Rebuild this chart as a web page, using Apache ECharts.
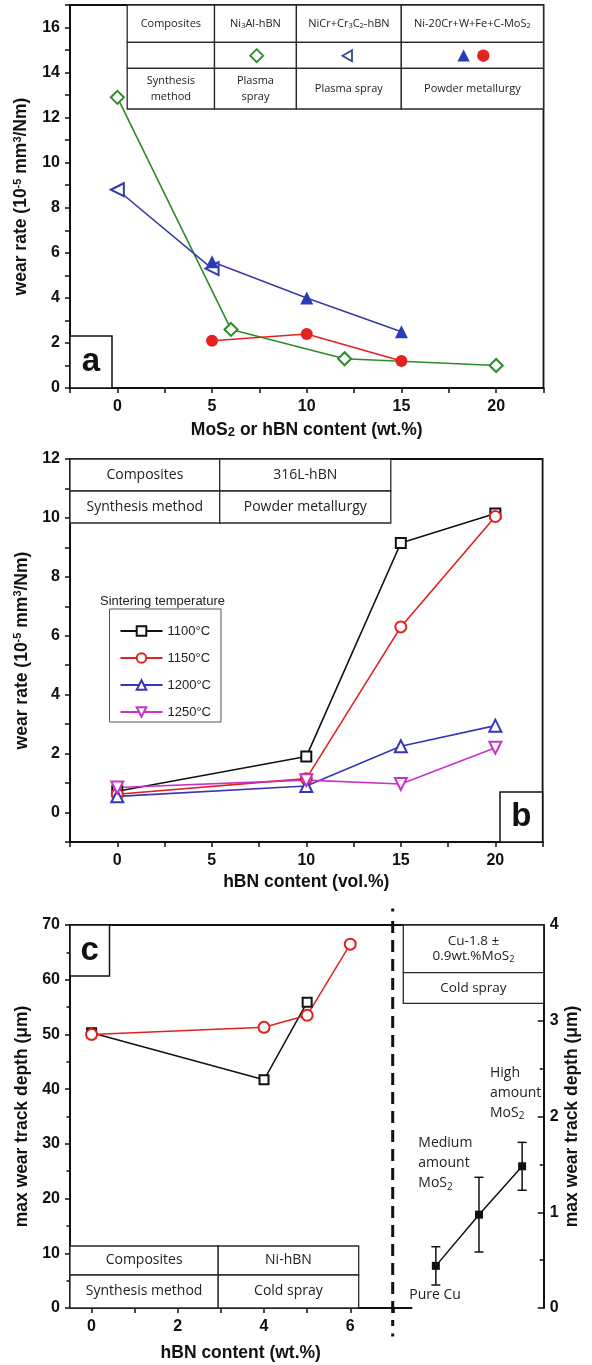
<!DOCTYPE html>
<html>
<head>
<meta charset="utf-8">
<script src="https://cdn.jsdelivr.net/npm/echarts@6.0.0/dist/echarts.min.js"></script>
<style>
  html, body { margin: 0; padding: 0; background: #fff; }
  #chart { width: 592px; height: 1365px; }
</style>
</head>
<body>
<div id="chart"></div>
<script>
// ---- panel a : wear rate vs MoS2 / hBN content ----
const aNi3AlX = [0, 6, 12, 20];
const aNi3AlY = [12.9, 2.6, 1.3, 1.0];
const aNiCrX = [0, 5];
const aNiCrY = [8.8, 5.3];
const aMoS2X = [5, 10, 15];
const aMoS2TriY = [5.6, 4.0, 2.5];
const aMoS2CircY = [2.1, 2.4, 1.2];

// ---- panel b : 316L-hBN, sintering temperatures ----
const bX = [0, 10, 15, 20];
const bTemps = ['1100°C', '1150°C', '1200°C', '1250°C'];
const b1100 = [0.72, 1.9, 9.15, 10.15];
const b1150 = [0.62, 1.15, 6.3, 10.05];
const b1200 = [0.55, 0.9, 2.25, 2.95];
const b1250 = [0.85, 1.1, 0.97, 2.2];

// ---- panel c : Ni-hBN cold spray + Cu-MoS2 ----
const cBlackX = [0, 4, 5];
const cBlackY = [50.3, 41.7, 55.9];
const cRedX = [0, 4, 5, 6];
const cRedY = [50.0, 51.3, 53.5, 66.5];
const cuSamples = ['Pure Cu', 'Medium amount MoS2', 'High amount MoS2'];
const cuX = [1, 2, 3];
const cuDepth = [0.44, 0.975, 1.48];
const cuErr = [0.2, 0.39, 0.25];

const axisFont = "'Liberation Sans', Arial, sans-serif";
const textFont = "'Open Sans', 'Noto Sans', sans-serif";
const ink = '#111';

const zip = (xs, ys) => xs.map((x, i) => [x, ys[i]]);

function nameStyle() {
  return {
    color: ink, fontSize: 17.5, fontWeight: 'bold', fontFamily: axisFont,
    rich: {
      sup: { fontSize: 11, fontWeight: 'bold', fontFamily: axisFont, color: ink, padding: [0, 0, 8, 0] },
      sub: { fontSize: 13, fontWeight: 'bold', fontFamily: axisFont, color: ink, padding: [4, 0, 0, 0] }
    }
  };
}

function valAxis(o) {
  return Object.assign({
    type: 'value',
    nameLocation: 'middle',
    nameTextStyle: nameStyle(),
    axisLine: { show: true, onZero: false, lineStyle: { color: ink, width: 2 } },
    axisTick: { show: true, length: 5, lineStyle: { color: ink, width: 1.5 } },
    axisLabel: { color: ink, fontSize: 16, fontWeight: 'bold', fontFamily: axisFont, margin: 11 },
    splitLine: { show: false }
  }, o);
}

// simple table drawn as graphic cells
function table(xs, ys, rows, size, lh) {
  const out = [];
  rows.forEach((row, r) => {
    row.forEach((txt, c) => {
      const x0 = xs[c], x1 = xs[c + 1], y0 = ys[r], y1 = ys[r + 1];
      out.push({
        type: 'rect', z: 100,
        shape: { x: x0, y: y0, width: x1 - x0, height: y1 - y0 },
        style: { fill: '#fff', stroke: '#2a2a2a', lineWidth: 1.3 }
      });
      if (txt) {
        out.push({
          type: 'text', z: 101,
          x: (x0 + x1) / 2, y: (y0 + y1) / 2,
          style: {
            text: txt, fill: '#222', fontSize: size, fontFamily: textFont,
            align: 'center', verticalAlign: 'middle', lineHeight: lh,
            rich: { s: { fontSize: size * 0.68, fontFamily: textFont, fill: '#222', padding: [size * 0.45, 0, 0, 0] } }
          }
        });
      }
    });
  });
  return out;
}

function letterBox(x, y, w, h, ch) {
  return [
    { type: 'rect', z: 100, shape: { x, y, width: w, height: h }, style: { fill: '#fff', stroke: ink, lineWidth: 1.5 } },
    { type: 'text', z: 101, x: x + w / 2, y: y + h / 2, style: { text: ch, fill: ink, fontSize: 33, fontWeight: 'bold', fontFamily: axisFont, align: 'center', verticalAlign: 'middle' } }
  ];
}

function note(x, y, txt) {
  return {
    type: 'text', z: 101, x, y,
    style: {
      text: txt, fill: '#222', fontSize: 14, fontFamily: textFont, lineHeight: 20,
      align: 'left', verticalAlign: 'top',
      rich: { s: { fontSize: 10, fontFamily: textFont, fill: '#222', padding: [7, 0, 0, 0] } }
    }
  };
}

const green = '#2e8b2a';
const blueLine = '#3a3aa6';
const blueFill = '#2a3cb4';
const red = '#e32322';

const graphics = [].concat(
  // panel a table + symbols
  table([127.2, 214.5, 296.4, 401.3, 543.5], [5, 42.3, 68.3, 109], [
    ['Composites', 'Ni{s|3}Al-hBN', 'NiCr+Cr{s|3}C{s|2}-hBN', 'Ni-20Cr+W+Fe+C-MoS{s|2}'],
    ['', '', '', ''],
    ['Synthesis\nmethod', 'Plasma\nspray', 'Plasma spray', 'Powder metallurgy']
  ], 11, 16.5),
  [
    { type: 'polygon', z: 102, shape: { points: [[256.7, 49.2], [263.2, 55.7], [256.7, 62.2], [250.2, 55.7]] }, style: { fill: '#fff', stroke: green, lineWidth: 1.8 } },
    { type: 'polygon', z: 102, shape: { points: [[342.5, 55.7], [352, 50.2], [352, 61.2]] }, style: { fill: '#fff', stroke: '#2d4c8c', lineWidth: 1.8 } },
    { type: 'polygon', z: 102, shape: { points: [[463.6, 49.5], [469.8, 61.5], [457.4, 61.5]] }, style: { fill: blueFill } },
    { type: 'circle', z: 102, shape: { cx: 483.3, cy: 55.7, r: 6.2 }, style: { fill: red } }
  ],
  letterBox(70, 336, 42, 52, 'a'),

  // panel b
  table([70, 219.7, 390.8], [459, 491, 523], [
    ['Composites', '316L-hBN'],
    ['Synthesis method', 'Powder metallurgy']
  ], 14, 16),
  [{ type: 'text', z: 101, x: 100, y: 601, style: { text: 'Sintering temperature', fill: '#222', fontSize: 13, fontFamily: axisFont, verticalAlign: 'middle' } }],
  letterBox(500, 792, 42.6, 50, 'b'),

  // panel c
  [{ type: 'line', z: 99, shape: { x1: 70, y1: 925, x2: 543.7, y2: 925 }, style: { stroke: ink, lineWidth: 1.8 } }],
  table([70, 218.2, 358.7], [1246, 1275, 1308], [
    ['Composites', 'Ni-hBN'],
    ['Synthesis method', 'Cold spray']
  ], 14, 16),
  table([403.3, 543.7], [925, 972.7, 1003.3], [
    ['Cu-1.8 ±\n0.9wt.%MoS{s|2}'],
    ['Cold spray']
  ], 13.5, 14.5),
  letterBox(70, 925, 39.5, 51, 'c'),
  [
    { type: 'line', z: 99, shape: { x1: 392.7, y1: 921, x2: 392.7, y2: 1326 }, style: { stroke: ink, lineWidth: 3, lineDash: [12, 7] } },
    { type: 'rect', z: 99, shape: { x: 391.2, y: 908.5, width: 3, height: 3 }, style: { fill: ink } },
    { type: 'rect', z: 99, shape: { x: 391.2, y: 1333.5, width: 3, height: 3 }, style: { fill: ink } },
    note(490, 1063, 'High\namount\nMoS{s|2}'),
    note(418.3, 1133.5, 'Medium\namount\nMoS{s|2}'),
    note(409.3, 1285, 'Pure Cu')
  ]
);

const option = {
  animation: false,
  backgroundColor: '#fff',
  grid: [
    { left: 70, top: 5, width: 473.5, height: 383, show: true, borderColor: ink, borderWidth: 1.8 },
    { left: 70, top: 459, width: 472.6, height: 383, show: true, borderColor: ink, borderWidth: 1.8 },
    { left: 70, top: 925, width: 341.5, height: 383 },
    { left: 392.7, top: 925, width: 151, height: 383 }
  ],
  xAxis: [
    valAxis({
      gridIndex: 0, min: -2.5, max: 22.5, interval: 2.5,
      name: 'MoS{sub|2} or hBN content (wt.%)', nameGap: 33,
      axisLabel: { color: ink, fontSize: 16, fontWeight: 'bold', fontFamily: axisFont, margin: 11,
        formatter: v => (Math.abs(v % 5) < 1e-6 ? String(v) : '') }
    }),
    valAxis({
      gridIndex: 1, min: -2.5, max: 22.5, interval: 2.5,
      name: 'hBN content (vol.%)', nameGap: 31,
      axisLabel: { color: ink, fontSize: 16, fontWeight: 'bold', fontFamily: axisFont, margin: 11,
        formatter: v => (Math.abs(v % 5) < 1e-6 ? String(v) : '') }
    }),
    valAxis({
      gridIndex: 2, min: -0.5, max: 7.42,
      name: 'hBN content (wt.%)', nameGap: 36,
      axisTick: { show: true, length: 5, lineStyle: { color: ink, width: 1.5 }, customValues: [0, 1, 2, 3, 4, 5, 6, 7] },
      axisLabel: { color: ink, fontSize: 16, fontWeight: 'bold', fontFamily: axisFont, margin: 11, customValues: [0, 2, 4, 6] }
    }),
    { type: 'value', gridIndex: 3, min: 0, max: 3.5, show: false }
  ],
  yAxis: [
    valAxis({
      gridIndex: 0, min: 0, max: 17, interval: 1,
      name: 'wear rate (10{sup|-5} mm{sup|3}/Nm)', nameGap: 39,
      axisLabel: { color: ink, fontSize: 16, fontWeight: 'bold', fontFamily: axisFont, margin: 10,
        formatter: v => (v % 2 === 0 && v < 17 ? String(v) : '') }
    }),
    valAxis({
      gridIndex: 1, min: -1, max: 12, interval: 1,
      name: 'wear rate (10{sup|-5} mm{sup|3}/Nm)', nameGap: 29,
      axisLabel: { color: ink, fontSize: 16, fontWeight: 'bold', fontFamily: axisFont, margin: 10,
        formatter: v => (v % 2 === 0 ? String(v) : '') }
    }),
    valAxis({
      gridIndex: 2, min: 0, max: 70, interval: 10,
      name: 'max wear track depth (μm)', nameGap: 39,
      minorTick: { show: true, splitNumber: 2, length: 3.5, lineStyle: { color: ink, width: 1.5 } },
      axisLabel: { color: ink, fontSize: 16, fontWeight: 'bold', fontFamily: axisFont, margin: 10 }
    }),
    valAxis({
      gridIndex: 3, min: 0, max: 4, interval: 1, position: 'right',
      name: 'max wear track depth (μm)', nameGap: 19, nameRotate: 90,
      axisTick: { show: true, inside: true, length: 6, lineStyle: { color: ink, width: 1.5 } },
      minorTick: { show: true, splitNumber: 2, length: 4, lineStyle: { color: ink, width: 1.5 } },
      axisLabel: { color: ink, fontSize: 16, fontWeight: 'bold', fontFamily: axisFont, margin: 6, inside: false }
    })
  ],
  legend: {
    data: bTemps,
    orient: 'vertical', left: 109.5, top: 609,
    itemWidth: 42, itemHeight: 12, itemGap: 13,
    padding: [15, 10, 3, 10],
    borderColor: '#555', borderWidth: 1,
    textStyle: { color: '#222', fontSize: 13, fontFamily: axisFont, lineHeight: 14 }
  },
  graphic: { elements: graphics },
  series: [
    // panel a
    { name: 'Ni3Al-hBN', type: 'line', xAxisIndex: 0, yAxisIndex: 0, data: zip(aNi3AlX, aNi3AlY),
      symbol: 'emptyDiamond', symbolSize: 13, lineStyle: { color: green, width: 1.6 },
      itemStyle: { color: green, borderWidth: 1.8 } },
    { name: 'NiCr+Cr3C2-hBN', type: 'line', xAxisIndex: 0, yAxisIndex: 0, data: zip(aNiCrX, aNiCrY),
      symbol: 'emptyTriangle', symbolRotate: 90, symbolSize: 13, lineStyle: { color: blueLine, width: 1.6 },
      itemStyle: { color: blueLine, borderWidth: 1.8 } },
    { name: 'Ni-20Cr MoS2 (triangle)', type: 'line', xAxisIndex: 0, yAxisIndex: 0, data: zip(aMoS2X, aMoS2TriY),
      symbol: 'triangle', symbolSize: 13, lineStyle: { color: blueLine, width: 1.6 },
      itemStyle: { color: blueFill } },
    { name: 'Ni-20Cr MoS2 (circle)', type: 'line', xAxisIndex: 0, yAxisIndex: 0, data: zip(aMoS2X, aMoS2CircY),
      symbol: 'circle', symbolSize: 12, lineStyle: { color: red, width: 1.6 },
      itemStyle: { color: red } },

    // panel b
    { name: bTemps[0], type: 'line', xAxisIndex: 1, yAxisIndex: 1, data: zip(bX, b1100),
      symbol: 'emptyRect', symbolSize: 10, lineStyle: { color: '#111', width: 1.6 },
      itemStyle: { color: '#111', borderWidth: 1.6 } },
    { name: bTemps[1], type: 'line', xAxisIndex: 1, yAxisIndex: 1, data: zip(bX, b1150),
      symbol: 'emptyCircle', symbolSize: 11, lineStyle: { color: '#e0221e', width: 1.6 },
      itemStyle: { color: '#e0221e', borderWidth: 1.6 } },
    { name: bTemps[2], type: 'line', xAxisIndex: 1, yAxisIndex: 1, data: zip(bX, b1200),
      symbol: 'emptyTriangle', symbolSize: 12, lineStyle: { color: '#3636b6', width: 1.6 },
      itemStyle: { color: '#3636b6', borderWidth: 1.6 } },
    { name: bTemps[3], type: 'line', xAxisIndex: 1, yAxisIndex: 1, data: zip(bX, b1250),
      symbol: 'emptyTriangle', symbolRotate: 180, symbolSize: 12, lineStyle: { color: '#c834c8', width: 1.6 },
      itemStyle: { color: '#c834c8', borderWidth: 1.6 } },

    // panel c left
    { name: 'Ni-hBN black', type: 'line', xAxisIndex: 2, yAxisIndex: 2, data: zip(cBlackX, cBlackY),
      symbol: 'emptyRect', symbolSize: 9, lineStyle: { color: '#111', width: 1.5 },
      itemStyle: { color: '#111', borderWidth: 1.6 } },
    { name: 'Ni-hBN red', type: 'line', xAxisIndex: 2, yAxisIndex: 2, data: zip(cRedX, cRedY),
      symbol: 'emptyCircle', symbolSize: 11, lineStyle: { color: '#e0221e', width: 1.5 },
      itemStyle: { color: '#e0221e', borderWidth: 1.6 } },

    // panel c right
    { name: 'Cu-MoS2', type: 'line', xAxisIndex: 3, yAxisIndex: 3,
      data: cuX.map((x, i) => ({ name: cuSamples[i], value: [x, cuDepth[i]] })),
      symbol: 'rect', symbolSize: 8, z: 4, lineStyle: { color: '#111', width: 1.5 },
      itemStyle: { color: '#111' } },
    { name: 'Cu-MoS2 error', type: 'custom', xAxisIndex: 3, yAxisIndex: 3,
      data: cuX.map((x, i) => [x, cuDepth[i], cuErr[i]]),
      encode: { x: 0, y: 1 },
      renderItem: (params, api) => {
        const x = api.value(0), y = api.value(1), e = api.value(2);
        const hi = api.coord([x, y + e]);
        const lo = api.coord([x, y - e]);
        const st = { stroke: '#111', lineWidth: 1.5 };
        return {
          type: 'group',
          children: [
            { type: 'line', shape: { x1: hi[0], y1: hi[1], x2: lo[0], y2: lo[1] }, style: st },
            { type: 'line', shape: { x1: hi[0] - 4.5, y1: hi[1], x2: hi[0] + 4.5, y2: hi[1] }, style: st },
            { type: 'line', shape: { x1: lo[0] - 4.5, y1: lo[1], x2: lo[0] + 4.5, y2: lo[1] }, style: st }
          ]
        };
      } }
  ]
};

const chart = echarts.init(document.getElementById('chart'));
chart.setOption(option);
</script>
</body>
</html>
